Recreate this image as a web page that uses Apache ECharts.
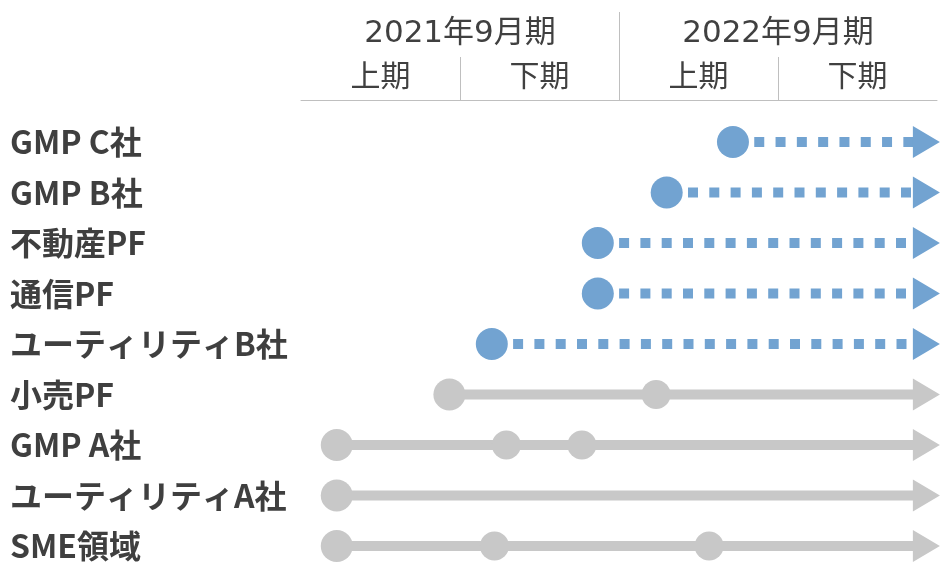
<!DOCTYPE html>
<html>
<head>
<meta charset="utf-8">
<script src="https://cdn.jsdelivr.net/npm/echarts@6/dist/echarts.min.js"></script>
<style>
  html, body { margin: 0; padding: 0; background: #fff; }
  #chart { width: 940px; height: 562px; }
</style>
</head>
<body>
<div id="chart"></div>
<script>
// 行（上から順に）
var rows = ['GMP C社', 'GMP B社', '不動産PF', '通信PF', 'ユーティリティB社', '小売PF', 'GMP A社', 'ユーティリティA社', 'SME領域'];
// 期のラベル
var years = ['2021年9月期', '2022年9月期'];
var halves = ['上期', '下期', '上期', '下期'];
// 各行のマイルストーン（2020年10月からの月数）
var milestones = [
  [16.3],
  [13.8],
  [11.2],
  [11.2],
  [7.2],
  [5.6, 13.4],
  [1.35, 7.75, 10.6],
  [1.35],
  [1.35, 7.3, 15.4]
];
// 予定（点線）かどうか
var planned = [true, true, true, true, true, false, false, false, false];
var arrowEnd = 23.6;
var axisMax = 24;

var BLUE = '#72A3D1';
var GRAY = '#C8C8C8';

var chart = echarts.init(document.getElementById('chart'));

var series = [];
for (var i = 0; i < rows.length; i++) {
  var color = planned[i] ? BLUE : GRAY;
  var data = [];
  for (var j = 0; j < milestones[i].length; j++) {
    data.push({
      value: [milestones[i][j], rows[i]],
      symbol: 'circle',
      symbolSize: j == 0 ? 32 : 29
    });
  }
  data.push({
    value: [arrowEnd, rows[i]],
    symbol: 'triangle',
    symbolSize: [32, 27],
    symbolRotate: -90
  });
  series.push({
    type: 'line',
    xAxisIndex: 0,
    yAxisIndex: 0,
    data: data,
    clip: false,
    showAllSymbol: true,
    itemStyle: { color: color, opacity: 1 },
    lineStyle: {
      color: color,
      width: 10,
      type: planned[i] ? [10, 11.3] : 'solid',
      cap: 'butt'
    },
    emphasis: { disabled: true },
    silent: true
  });
}

var option = {
  animation: false,
  grid: [
    { left: 301, right: 3, top: 142, height: 404 },
    { left: 301, right: 3, top: 12, height: 88 },
    { left: 301, right: 3, top: 57, height: 43 }
  ],
  xAxis: [
    { gridIndex: 0, type: 'value', min: 0, max: axisMax, show: false },
    {
      gridIndex: 1, type: 'category', data: years, position: 'top',
      axisLine: { show: false }, axisTick: { show: false },
      axisLabel: {
        inside: true, margin: 22, verticalAlign: 'middle',
        fontSize: 31, color: '#404040',
        fontFamily: 'DejaVu Sans, Noto Sans CJK JP'
      },
      splitLine: { show: true, showMinLine: false, showMaxLine: false, lineStyle: { color: '#BFBFBF', width: 1 } }
    },
    {
      gridIndex: 2, type: 'category', data: halves, position: 'bottom',
      axisLine: { show: true, lineStyle: { color: '#BFBFBF', width: 1 } },
      axisTick: { show: false },
      axisLabel: {
        inside: true, margin: 25, verticalAlign: 'middle',
        fontSize: 30, color: '#404040',
        fontFamily: 'Noto Sans CJK JP'
      },
      splitLine: { show: true, showMinLine: false, showMaxLine: false, lineStyle: { color: '#BFBFBF', width: 1 } }
    }
  ],
  yAxis: [
    {
      gridIndex: 0, type: 'category', data: rows, inverse: true, boundaryGap: false,
      axisLine: { show: false }, axisTick: { show: false }, splitLine: { show: false },
      axisLabel: {
        align: 'left', margin: 291,
        fontSize: 32, fontWeight: 'bold', color: '#3F3F3F',
        fontFamily: 'Noto Sans CJK JP'
      }
    },
    { gridIndex: 1, type: 'value', show: false },
    { gridIndex: 2, type: 'value', show: false }
  ],
  series: series
};
chart.setOption(option);
</script>
</body>
</html>
